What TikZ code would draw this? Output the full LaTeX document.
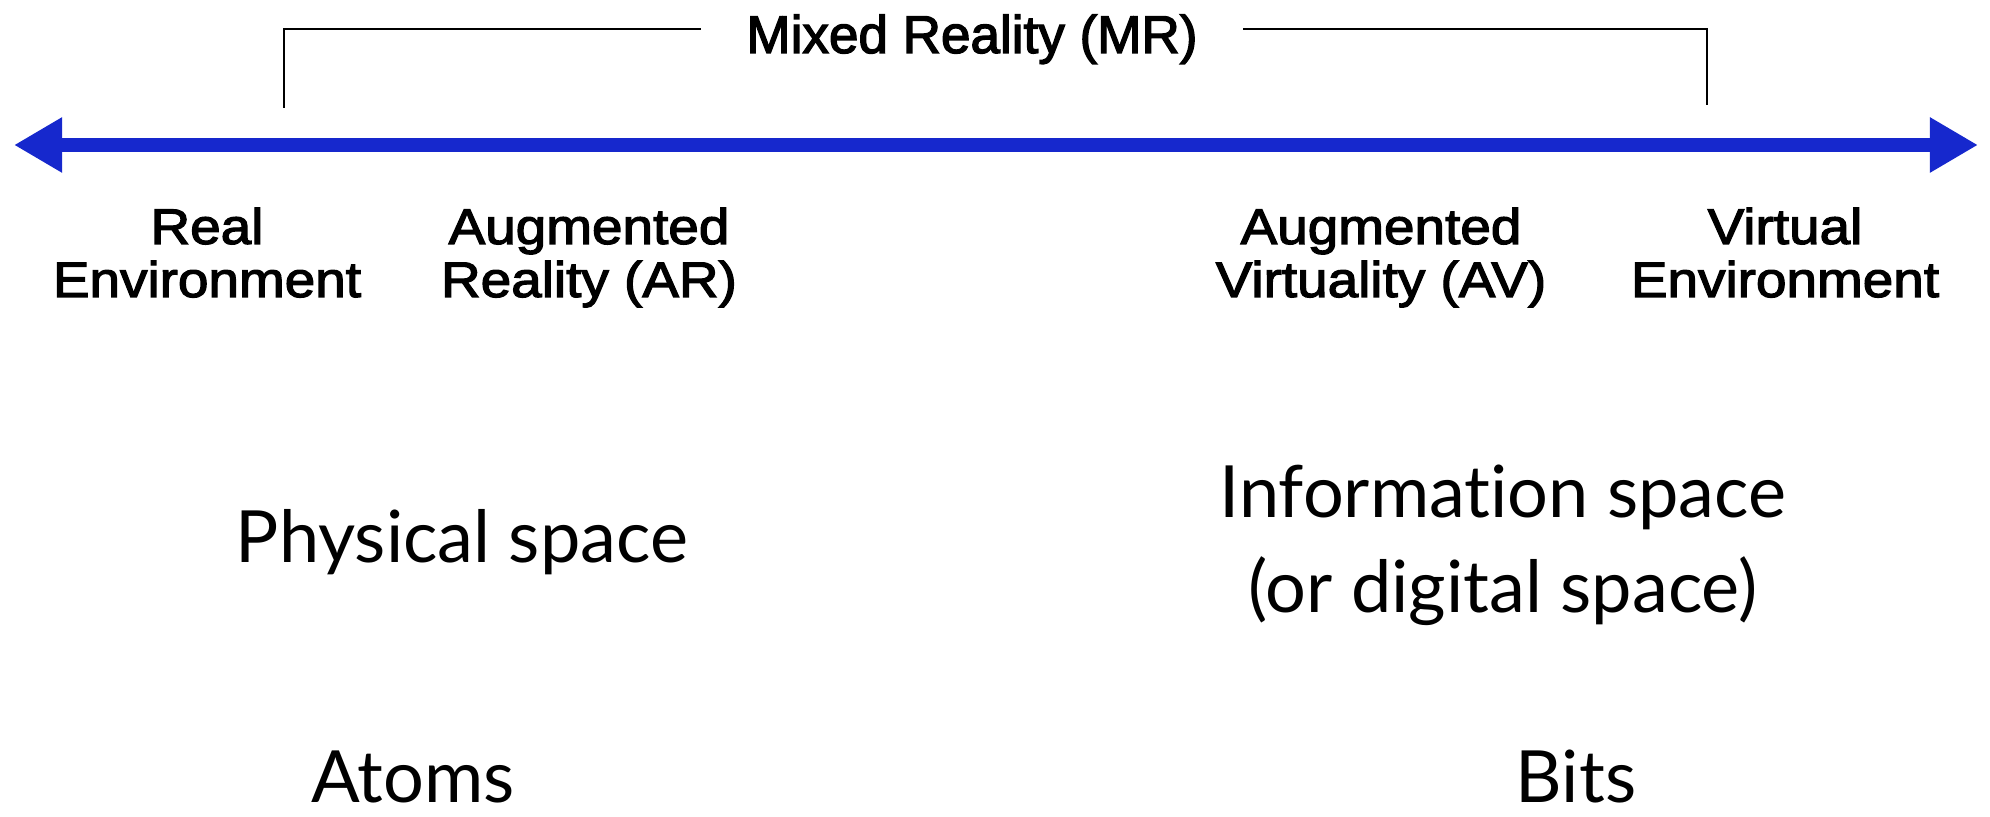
\documentclass[tikz,border=0pt]{standalone}
\usepackage{fontspec}
\setmainfont{Liberation Sans}[FakeBold=2.5]
\newfontfamily\labelfont{Liberation Sans}[FakeStretch=1.1, FakeBold=2.5]
\newfontfamily\spacefont{Lato}[Ligatures=NoCommon]
\usetikzlibrary{arrows.meta}
\definecolor{axisblue}{RGB}{22,40,205}

\begin{document}
\begin{tikzpicture}[x=0.1mm, y=-0.1mm,
    lbl/.style = {align=center, inner sep=0pt, anchor=base,
      font=\labelfont\fontsize{14.2pt}{15.1pt}\selectfont},
    big/.style = {align=center, inner sep=0pt, anchor=base,
      font=\spacefont\fontsize{20.5pt}{27.3pt}\selectfont},
    >={Triangle[length=13.7pt, width=14.8pt]}]
    \useasboundingbox (0,0) rectangle (1990,817);

    % continuum axis
    \coordinate (left) at (14,145);
    \coordinate (right) at (1978,145);
    \draw[axisblue, line width=4pt, <->] (left) -- (right);

    % mixed reality bracket
    \node[inner xsep=4.5mm, inner ysep=0pt, anchor=base,
      font=\fontsize{15.1pt}{18pt}\selectfont] (mr) at (972,53) {Mixed Reality (MR)};
    \coordinate (mrtop) at (0,29);
    \coordinate (mrL) at (284,108);
    \coordinate (mrR) at (1707,105);
    \draw[line width=0.6pt] (mr.west |- mrtop) -| (mrL);
    \draw[line width=0.6pt] (mr.east |- mrtop) -| (mrR);

    % labels along the axis (base = last line)
    \node[lbl] (real) at (207,297) {Real\\Environment};
    \node[lbl] (ar) at (589,297) {Augmented\\Reality (AR)};
    \node[lbl] (av) at (1381,297) {Augmented\\Virtuality (AV)};
    \node[lbl] (virt) at (1785,297) {Virtual\\Environment};

    % spaces
    \node[big] (phys) at (462,563) {Physical space};
    \node[big] (info) at (1503,613) {Information space\\(or digital space)};
    \node[big, text depth=0pt] (atoms) at (413,803) {Atoms};
    \node[big, text depth=0pt] (bits) at (1576,803) {Bits};
\end{tikzpicture}
\end{document}
